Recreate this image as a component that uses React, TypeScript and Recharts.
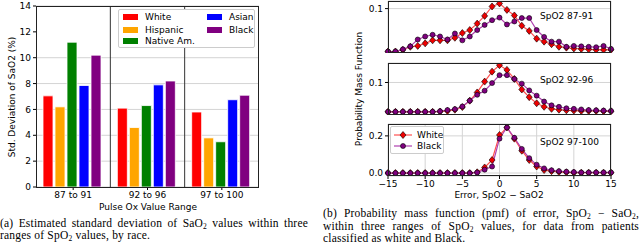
import { BarChart, Bar, XAxis, YAxis, CartesianGrid, ReferenceLine, LineChart, Line } from 'recharts';

// (a) std. deviation of SaO2 by race, per pulse ox range
const ranges = ['87 to 91', '92 to 96', '97 to 100'];
const sdWhite = [7.05, 6.1, 5.8];
const sdHispanic = [6.2, 4.6, 3.8];
const sdNative = [11.2, 6.3, 3.5];
const sdAsian = [7.85, 7.9, 6.75];
const sdBlack = [10.2, 8.2, 7.1];
const sdTicks = [0, 2, 4, 6, 8, 10, 12, 14];

// (b) pmf of error SpO2 - SaO2
const errors = [-15, -14, -13, -12, -11, -10, -9, -8, -7, -6, -5, -4, -3, -2, -1, 0, 1, 2, 3, 4, 5, 6, 7, 8, 9, 10, 11, 12, 13, 14, 15];
const errTicks = [-15, -10, -5, 0, 5, 10, 15];
const pmfWhite87 = [0, 0, 0.004, 0.011, 0.013, 0.019, 0.026, 0.026, 0.026, 0.032, 0.043, 0.05, 0.065, 0.083, 0.105, 0.112, 0.097, 0.084, 0.06, 0.048, 0.03, 0.023, 0.017, 0.011, 0.009, 0.007, 0.006, 0.005, 0.004, 0.004, 0.004];
const pmfBlack87 = [0, 0, 0.005, 0.012, 0.028, 0.035, 0.039, 0.035, 0.028, 0.042, 0.026, 0.035, 0.05, 0.062, 0.073, 0.079, 0.063, 0.07, 0.078, 0.078, 0.05, 0.034, 0.023, 0.023, 0.011, 0.013, 0.012, 0.011, 0.01, 0.013, 0.006];
const pmfWhite92 = [0, 0, 0, 0, 0, 0, 0, 0.001, 0.003, 0.007, 0.016, 0.038, 0.066, 0.103, 0.137, 0.159, 0.143, 0.112, 0.076, 0.05, 0.029, 0.017, 0.01, 0.007, 0.005, 0.004, 0.003, 0.003, 0.003, 0.002, 0.002];
const pmfBlack92 = [0, 0, 0, 0, 0, 0, 0, 0.002, 0.006, 0.009, 0.018, 0.038, 0.058, 0.072, 0.098, 0.125, 0.125, 0.112, 0.096, 0.073, 0.055, 0.035, 0.022, 0.017, 0.012, 0.01, 0.008, 0.006, 0.005, 0.004, 0.003];
const pmfWhite97 = [0, 0, 0, 0, 0, 0, 0, 0, 0, 0, 0, 0, 0.004, 0.03, 0.07, 0.205, 0.245, 0.185, 0.12, 0.07, 0.035, 0.016, 0.01, 0.006, 0.004, 0.002, 0.002, 0.002, 0.002, 0.002, 0.002];
const pmfBlack97 = [0, 0, 0, 0, 0, 0, 0, 0, 0, 0, 0, 0, 0.003, 0.018, 0.035, 0.185, 0.245, 0.19, 0.13, 0.08, 0.045, 0.025, 0.015, 0.01, 0.007, 0.005, 0.003, 0.003, 0.003, 0.003, 0.003];

const FONT = 'DejaVu Sans';
const SERIF = 'Liberation Serif';
const tickStyle = { fontSize: 9, fill: '#000', fontFamily: FONT };

const barData = ranges.map((r, i) => ({
    range: r,
    white: sdWhite[i],
    hispanic: sdHispanic[i],
    native: sdNative[i],
    asian: sdAsian[i],
    black: sdBlack[i],
}));

const makePmf = (w: number[], b: number[]) => errors.map((e, i) => ({ err: e, white: w[i], black: b[i] }));

const diamondDot = (props: any) => {
    const { cx, cy, index } = props;
    return (
        <path key={`d-${index}`} d={`M${cx},${cy - 3.5}L${cx + 3},${cy}L${cx},${cy + 3.5}L${cx - 3},${cy}Z`}
            fill="#ee0000" stroke="#000" strokeWidth={0.6} />
    );
};

const circleDot = (props: any) => {
    const { cx, cy, index } = props;
    return <circle key={`c-${index}`} cx={cx} cy={cy} r={2.5} fill="#800080" stroke="#000" strokeWidth={0.6} />;
};

function Frame({ left, top, width, height }: { left: number; top: number; width: number; height: number }) {
    return (
        <div style={{ position: 'absolute', left, top, width, height, border: '1px solid #222', boxSizing: 'border-box', pointerEvents: 'none' }} />
    );
}

function Text({ left, top, children, size = 9, rotate = false, center = false }: any) {
    return (
        <div style={{
            position: 'absolute', left, top, fontFamily: FONT, fontSize: size, color: '#000', whiteSpace: 'nowrap',
            lineHeight: 1,
            transform: rotate ? 'translate(-50%, -50%) rotate(-90deg)' : center ? 'translate(-50%, -50%)' : 'translateY(-50%)',
        }}>{children}</div>
    );
}

const Sub = () => <sub style={{ fontSize: 7.5, lineHeight: 0, verticalAlign: '-2px' }}>2</sub>;

function CapLine({ left, top, width, full = true, children }: any) {
    return (
        <div style={{
            position: 'absolute', left, top, width, fontFamily: SERIF, fontSize: 11.5, letterSpacing: 0.2,
            lineHeight: '12px', whiteSpace: 'nowrap', textAlign: full ? 'justify' : 'left',
            textAlignLast: full ? 'justify' : 'left', transform: 'translateY(-50%)', color: '#000',
        } as any}>{children}</div>
    );
}

interface PanelProps {
    top: number;
    data: { err: number; white: number; black: number }[];
    domain: [number, number];
    ticks: number[];
    showX?: boolean;
}

function PmfPanel({ top, data, domain, ticks, showX }: PanelProps) {
    const plotH = 52;
    return (
        <div style={{ position: 'absolute', left: 340, top: top - 1 }}>
            <LineChart width={280} height={plotH + 1 + (showX ? 20 : 0)} data={data}
                margin={{ top: 1, right: 9, left: 0, bottom: 0 }}>
                <CartesianGrid stroke="#d4d4d4" strokeWidth={1} />
                <XAxis dataKey="err" type="number" domain={[-15, 15]} ticks={errTicks}
                    height={showX ? 20 : 0} tick={showX ? tickStyle : false} tickSize={3}
                    axisLine={false} tickLine={{ stroke: '#000' }}
                    tickFormatter={(v: number) => (v < 0 ? `\u2212${-v}` : `${v}`)} />
                <YAxis type="number" domain={domain} ticks={ticks} width={48} tick={tickStyle} tickSize={3}
                    axisLine={false} tickLine={{ stroke: '#000' }} allowDataOverflow
                    tickFormatter={(v: number) => v.toFixed(1)} />
                <Line type="linear" dataKey="white" stroke="#ff5050" strokeWidth={1.2} dot={diamondDot} isAnimationActive={false} />
                <Line type="linear" dataKey="black" stroke="#b040b0" strokeWidth={1.2} dot={circleDot} isAnimationActive={false} />
            </LineChart>
            <Frame left={48} top={1} width={223} height={plotH} />
        </div>
    );
}

const legendRow = (color: string, label: string, top: number, left: number) => (
    <div style={{ position: 'absolute', left, top, height: 10 }}>
        <div style={{ position: 'absolute', left: 0, top: 2, width: 15, height: 6, background: color }} />
        <div style={{ position: 'absolute', left: 22, top: 0, fontFamily: FONT, fontSize: 9, lineHeight: '10px', whiteSpace: 'nowrap' }}>{label}</div>
    </div>
);

export default function App() {
    return (
        <div style={{ position: 'absolute', left: 0, top: 0, width: 640, height: 246, background: '#fff', overflow: 'hidden' }}>
            {/* (a) bar chart */}
            <div style={{ position: 'absolute', left: 0, top: 0 }}>
                <BarChart width={270} height={215} data={barData} barCategoryGap={7} barGap={2}
                    margin={{ top: 6, right: 11, left: 0, bottom: 0 }}>
                    <CartesianGrid vertical={false} stroke="#d4d4d4" />
                    <XAxis dataKey="range" height={28} tick={tickStyle} tickSize={3} axisLine={false} tickLine={{ stroke: '#000' }} />
                    <YAxis domain={[0, 14]} ticks={sdTicks} width={36} tick={tickStyle} tickSize={3} axisLine={false} tickLine={{ stroke: '#000' }} />
                    <ReferenceLine x="87 to 91" position="end" stroke="#333" />
                    <ReferenceLine x="92 to 96" position="end" stroke="#333" />
                    <Bar dataKey="white" fill="#ff0000" stroke="#fff" strokeWidth={0.8} isAnimationActive={false} />
                    <Bar dataKey="hispanic" fill="#ffa500" stroke="#fff" strokeWidth={0.8} isAnimationActive={false} />
                    <Bar dataKey="native" fill="#008000" stroke="#fff" strokeWidth={0.8} isAnimationActive={false} />
                    <Bar dataKey="asian" fill="#0000ff" stroke="#fff" strokeWidth={0.8} isAnimationActive={false} />
                    <Bar dataKey="black" fill="#800080" stroke="#fff" strokeWidth={0.8} isAnimationActive={false} />
                </BarChart>
                <Frame left={36} top={6} width={223} height={182} />
                <div style={{ position: 'absolute', left: 118, top: 9, width: 137, height: 39, border: '1px solid #ccc', borderRadius: 2, background: '#fff', boxSizing: 'border-box' }}>
                    {legendRow('#ff0000', 'White', 2, 4)}
                    {legendRow('#ffa500', 'Hispanic', 15, 4)}
                    {legendRow('#008000', 'Native Am.', 26, 4)}
                    {legendRow('#0000ff', 'Asian', 2, 88)}
                    {legendRow('#800080', 'Black', 15, 88)}
                </div>
                <Text left={12} top={97} rotate size={9}>Std. Deviation of SaO2 (%)</Text>
                <Text left={148} top={207} center size={9}>Pulse Ox Value Range</Text>
            </div>

            {/* (b) pmf panels */}
            <PmfPanel top={1} data={makePmf(pmfWhite87, pmfBlack87)} domain={[-0.0035, 0.1177]} ticks={[0, 0.1]} />
            <PmfPanel top={63} data={makePmf(pmfWhite92, pmfBlack92)} domain={[-0.011, 0.1665]} ticks={[0, 0.1]} />
            <PmfPanel top={124} data={makePmf(pmfWhite97, pmfBlack97)} domain={[-0.016, 0.264]} ticks={[0, 0.2]} showX />
            <Text left={540} top={16} size={9}>SpO2 87-91</Text>
            <Text left={540} top={80} size={9}>SpO2 92-96</Text>
            <Text left={540} top={142} size={9}>SpO2 97-100</Text>
            <Text left={359} top={89} rotate size={9}>Probability Mass Function</Text>
            <Text left={499} top={195} center size={9}>Error, SpO2 {'\u2212'} SaO2</Text>
            {/* pmf legend */}
            <div style={{ position: 'absolute', left: 390, top: 126, width: 54, height: 28, border: '1px solid #ccc', borderRadius: 2, background: '#fff', boxSizing: 'border-box' }}>
                <svg width={20} height={26} style={{ position: 'absolute', left: 2, top: 0 }}>
                    <line x1={1} y1={8} x2={19} y2={8} stroke="#ff5050" strokeWidth={1.2} />
                    <path d="M10,4.5L13,8L10,11.5L7,8Z" fill="#ee0000" stroke="#000" strokeWidth={0.6} />
                    <line x1={1} y1={19} x2={19} y2={19} stroke="#b040b0" strokeWidth={1.2} />
                    <circle cx={10} cy={19} r={2.5} fill="#800080" stroke="#000" strokeWidth={0.6} />
                </svg>
                <div style={{ position: 'absolute', left: 26, top: 3, fontFamily: FONT, fontSize: 9, lineHeight: '10px' }}>White</div>
                <div style={{ position: 'absolute', left: 26, top: 14, fontFamily: FONT, fontSize: 9, lineHeight: '10px' }}>Black</div>
            </div>

            {/* captions */}
            <CapLine left={0} top={223} width={308}>(a) Estimated standard deviation of SaO<Sub /> values within three</CapLine>
            <CapLine left={0} top={235} width={308} full={false}>ranges of SpO<Sub /> values, by race.</CapLine>
            <CapLine left={323} top={213} width={316}>(b) Probability mass function (pmf) of error, SpO<Sub /> {'\u2212'} SaO<Sub />,</CapLine>
            <CapLine left={323} top={226} width={316}>within three ranges of SpO<Sub /> values, for data from patients</CapLine>
            <CapLine left={323} top={238} width={316} full={false}>classified as white and Black.</CapLine>
        </div>
    );
}
